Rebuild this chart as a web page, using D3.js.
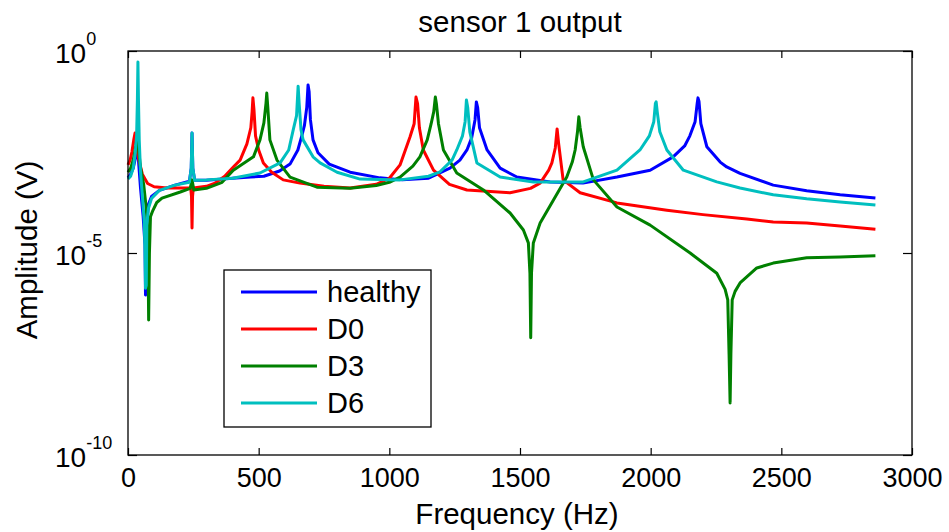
<!DOCTYPE html>
<html lang="en">
<head>
<meta charset="utf-8">
<title>sensor 1 output</title>
<script src="https://d3js.org/d3.v7.min.js"></script>
<style type="text/css">
  body { margin: 0; background: white; }
  text { font-family: "Liberation Sans", Arial, sans-serif; fill: black; }
  .tick line { stroke: black; stroke-width: 1.2; }
</style>
</head>
<body>
<div id="main"></div>
<script type="text/javascript">
var width = 949;
var height = 532;

// series: [frequency (Hz), log10 amplitude (V)]
var healthy = [[0,-3.14],[10,-3.05],[20,-2.9],[30,-2.6],[35,-2.4],[40,-2.7],[48,-3.4],[58,-4.1],[65,-4.8],[67,-6.04],[70,-6.0],[72,-4.3],[78,-3.8],[90,-3.6],[120,-3.45],[180,-3.32],[235,-3.22],[242,-2.9],[245,-2.03],[248,-2.9],[255,-3.2],[300,-3.2],[400,-3.15],[470,-3.12],[520,-3.1],[580,-2.97],[620,-2.8],[650,-2.45],[665,-2.1],[675,-1.85],[684,-1.4],[689,-0.84],[693,-1.0],[698,-1.7],[708,-2.2],[727,-2.52],[770,-2.8],[850,-3.0],[964,-3.14],[1050,-3.19],[1150,-3.15],[1232,-2.9],[1270,-2.7],[1297,-2.45],[1315,-2.15],[1328,-1.7],[1333,-1.26],[1338,-1.4],[1345,-1.9],[1374,-2.45],[1424,-2.9],[1488,-3.12],[1615,-3.24],[1741,-3.27],[1871,-3.12],[1998,-2.95],[2086,-2.62],[2130,-2.35],[2150,-2.1],[2170,-1.75],[2178,-1.3],[2181,-1.16],[2185,-1.25],[2192,-1.8],[2215,-2.37],[2266,-2.75],[2291,-2.87],[2342,-3.03],[2469,-3.32],[2597,-3.46],[2725,-3.56],[2860,-3.64]];
var d0 = [[0,-2.82],[8,-2.7],[15,-2.5],[22,-2.2],[27,-2.03],[32,-2.3],[40,-2.65],[55,-3.05],[75,-3.28],[100,-3.36],[150,-3.39],[240,-3.39],[243,-3.6],[245,-4.38],[247,-3.6],[250,-3.39],[300,-3.35],[333,-3.27],[370,-3.1],[403,-2.87],[429,-2.7],[455,-2.3],[470,-1.9],[475,-1.5],[478,-1.16],[482,-1.45],[488,-2.1],[500,-2.45],[518,-2.77],[550,-3.0],[594,-3.19],[658,-3.27],[750,-3.35],[850,-3.39],[950,-3.3],[1000,-3.15],[1041,-2.82],[1079,-2.13],[1095,-1.8],[1102,-1.14],[1108,-1.3],[1115,-1.9],[1130,-2.45],[1169,-2.95],[1230,-3.3],[1297,-3.44],[1462,-3.51],[1540,-3.4],[1577,-3.27],[1610,-2.95],[1622,-2.77],[1635,-2.4],[1642,-1.93],[1648,-2.3],[1665,-3.19],[1730,-3.51],[1871,-3.76],[2062,-3.94],[2200,-4.05],[2368,-4.16],[2469,-4.23],[2597,-4.26],[2725,-4.33],[2860,-4.41]];
var d3s = [[0,-3.0],[10,-2.9],[20,-2.7],[30,-2.35],[35,-2.15],[40,-2.4],[48,-2.9],[60,-3.3],[70,-3.9],[76,-4.6],[79,-6.66],[82,-5.0],[86,-4.1],[95,-3.95],[110,-3.75],[130,-3.64],[200,-3.49],[238,-3.4],[245,-3.19],[252,-3.44],[300,-3.4],[360,-3.25],[403,-2.95],[480,-2.62],[505,-2.2],[520,-1.78],[528,-1.3],[531,-1.04],[535,-1.4],[543,-2.2],[570,-2.7],[620,-3.12],[723,-3.37],[850,-3.4],[950,-3.33],[1000,-3.25],[1041,-3.12],[1090,-2.85],[1117,-2.62],[1145,-2.2],[1160,-1.8],[1170,-1.5],[1176,-1.14],[1180,-1.3],[1188,-1.8],[1207,-2.45],[1258,-3.02],[1360,-3.44],[1462,-4.01],[1513,-4.43],[1532,-4.75],[1538,-5.5],[1541,-7.1],[1544,-5.5],[1551,-4.75],[1577,-4.26],[1628,-3.69],[1679,-3.12],[1700,-2.75],[1711,-2.45],[1720,-2.0],[1725,-1.63],[1730,-1.9],[1742,-2.37],[1781,-3.19],[1871,-3.86],[1998,-4.31],[2151,-5.0],[2253,-5.5],[2285,-5.9],[2295,-6.16],[2300,-7.5],[2304,-8.71],[2307,-7.5],[2312,-6.16],[2323,-5.95],[2342,-5.74],[2406,-5.37],[2469,-5.25],[2597,-5.12],[2725,-5.1],[2860,-5.07]];
var d6 = [[0,-3.17],[10,-3.1],[20,-2.9],[28,-2.5],[33,-2.1],[36,-1.2],[38,-0.27],[40,-1.2],[43,-2.2],[48,-3.0],[55,-3.6],[62,-4.2],[65,-4.9],[67,-5.87],[70,-5.8],[72,-4.3],[78,-3.9],[90,-3.65],[120,-3.45],[180,-3.32],[235,-3.25],[242,-2.9],[245,-2.03],[248,-2.9],[255,-3.2],[300,-3.19],[400,-3.15],[505,-3.02],[582,-2.77],[615,-2.45],[632,-1.96],[645,-1.6],[651,-0.87],[655,-1.3],[662,-1.95],[670,-2.2],[708,-2.62],[735,-2.77],[800,-3.0],[888,-3.17],[1041,-3.19],[1150,-3.1],[1194,-2.99],[1240,-2.7],[1258,-2.45],[1280,-2.1],[1290,-1.75],[1295,-1.21],[1300,-1.4],[1308,-2.0],[1335,-2.77],[1424,-3.12],[1551,-3.24],[1742,-3.24],[1871,-2.95],[1959,-2.45],[1995,-2.1],[2012,-1.75],[2018,-1.3],[2021,-1.26],[2025,-1.5],[2035,-2.0],[2062,-2.45],[2125,-2.95],[2253,-3.24],[2342,-3.39],[2469,-3.56],[2597,-3.66],[2725,-3.74],[2860,-3.81]];

var seriesNames = ["healthy", "D0", "D3", "D6"];
var seriesData = [healthy, d0, d3s, d6];
var seriesColors = ["#0000ff", "#ff0000", "#008000", "#00bfbf"];

var xTicks = [0, 500, 1000, 1500, 2000, 2500, 3000];
var yTicks = [1e-10, 1e-5, 1e0];
var yTickExp = ["-10", "-5", "0"];

var plotLeft = 128, plotRight = 912, plotTop = 51, plotBottom = 455;

var svg = d3.select("div#main")
            .append("svg")
            .attr("width", width)
            .attr("height", height)

var x = d3.scaleLinear().domain([0, 3000]).range([plotLeft, plotRight])
var y = d3.scaleLog().domain([1e-10, 1]).range([plotBottom, plotTop])

// curves
var line = d3.line()
    .x(function(d) { return x(d[0]); })
    .y(function(d) { return y(Math.pow(10, d[1])); })

svg.append("g").selectAll("path")
    .data(seriesData)
    .enter().append("path")
    .attr("d", line)
    .attr("fill", "none")
    .attr("stroke", function(d, i) { return seriesColors[i]; })
    .attr("stroke-width", 3)
    .attr("stroke-linejoin", "round")

// axes (ticks inward like matlab)
var gx = svg.append("g").attr("transform", "translate(0," + plotBottom + ")")
    .call(d3.axisBottom(x).tickValues(xTicks).tickSizeInner(-7).tickSizeOuter(0).tickPadding(13).tickFormat(d3.format("d")))
gx.selectAll("text").style("font-size", "27px")
gx.select(".domain").remove()

var gxt = svg.append("g").attr("transform", "translate(0," + plotTop + ")")
    .call(d3.axisTop(x).tickValues(xTicks).tickSizeInner(-7).tickSizeOuter(0).tickFormat(""))
gxt.select(".domain").remove()

var gy = svg.append("g").attr("transform", "translate(" + plotLeft + ",0)")
    .call(d3.axisLeft(y).tickValues(yTicks).tickSizeInner(-9).tickSizeOuter(0).tickFormat(""))
gy.select(".domain").remove()

var gyr = svg.append("g").attr("transform", "translate(" + plotRight + ",0)")
    .call(d3.axisRight(y).tickValues(yTicks).tickSizeInner(-9).tickSizeOuter(0).tickFormat(""))
gyr.select(".domain").remove()

svg.append("rect")
    .attr("x", plotLeft).attr("y", plotTop)
    .attr("width", plotRight - plotLeft).attr("height", plotBottom - plotTop)
    .attr("fill", "none").attr("stroke", "black").attr("stroke-width", 1.3)

// log tick labels 10^n
var ylab = svg.append("g").selectAll("text")
    .data(yTicks)
    .enter().append("text")
    .attr("x", 55)
    .attr("y", function(d) { return y(d) + 12; })
    .style("font-size", "28px")
ylab.append("tspan").text("10")
ylab.append("tspan")
    .attr("dy", -18)
    .style("font-size", "18px")
    .text(function(d, i) { return yTickExp[i]; })

// labels
svg.append("text")
    .attr("x", (plotLeft + plotRight) / 2 - 0)
    .attr("y", 32)
    .attr("text-anchor", "middle")
    .style("font-size", "29.5px")
    .text("sensor 1 output")

svg.append("text")
    .attr("x", (plotLeft + plotRight) / 2 - 3)
    .attr("y", 524)
    .attr("text-anchor", "middle")
    .style("font-size", "29.5px")
    .text("Frequency (Hz)")

svg.append("text")
    .attr("transform", "translate(37," + 250 + ") rotate(-90)")
    .attr("text-anchor", "middle")
    .style("font-size", "29.5px")
    .text("Amplitude (V)")

// legend
var lg = svg.append("g").attr("class", "legend")
lg.append("rect")
    .attr("x", 224).attr("y", 270)
    .attr("width", 207).attr("height", 157)
    .attr("fill", "white").attr("stroke", "black").attr("stroke-width", 1.3)

var rows = lg.selectAll("g.row")
    .data(seriesNames)
    .enter().append("g")
    .attr("class", "row")
    .attr("transform", function(d, i) { return "translate(0," + (292 + i * 37) + ")"; })
rows.append("line")
    .attr("x1", 241).attr("x2", 317)
    .attr("stroke", function(d, i) { return seriesColors[i]; })
    .attr("stroke-width", 3)
rows.append("text")
    .attr("x", 327)
    .attr("y", 10)
    .style("font-size", "29px")
    .text(function(d) { return d; })
</script>
</body>
</html>
